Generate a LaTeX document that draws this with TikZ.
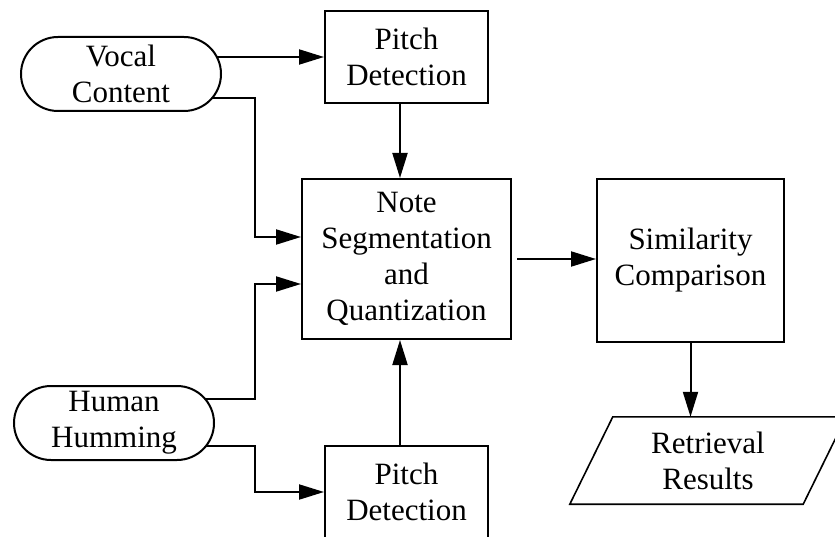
\documentclass[tikz,border=0pt]{standalone}
\usepackage{fontspec}
\setmainfont{Liberation Serif}
\usetikzlibrary{arrows.meta,backgrounds,calc}

\tikzset{
  every node/.style={font=\fontsize{31}{36}\selectfont, inner sep=0pt, align=center},
  box/.style={draw, line width=2pt, fill=white},
  term/.style={draw, line width=2pt, fill=white, rounded corners=37pt,
               minimum width=200pt, minimum height=74pt},
  conn/.style={line width=2pt, -{Triangle[length=25pt,width=15pt]}},
  plain/.style={line width=1.6pt},
}

\begin{document}
\begin{tikzpicture}[x=1pt, y=-1pt]
  \useasboundingbox (0,0) rectangle (835,537);
  \clip (0,0) rectangle (835,537);

  % terminals
  \node[term] (vc) at (121,74)  {Vocal\\Content};
  \node[term] (hh) at (114,423) {Human\\Humming};

  % processing blocks
  \node[box, minimum width=163pt, minimum height=92pt]  (pd1)  at (406.5,57)    {Pitch\\Detection};
  \node[box, minimum width=209pt, minimum height=160pt] (note) at (406.5,259)   {Note\\Segmentation\\and\\Quantization};
  \node[box, minimum width=163pt, minimum height=92pt]  (pd2)  at (406.5,492)   {Pitch\\Detection};
  \node[box, minimum width=187pt, minimum height=163pt] (sim)  at (690.5,260.5) {Similarity\\Comparison};

  % output (parallelogram)
  \node[minimum width=276pt, minimum height=87pt] (res) at (708,460.5) {Retrieval\\Results};
  \draw[plain] ($(res.north west)+(43,0)$) -- (res.north east)
               -- ($(res.south east)+(-43,0)$) -- (res.south west) -- cycle;

  % bend points of the routed connectors
  \coordinate (bendA) at (255,237);
  \coordinate (bendB) at (255,284);
  \coordinate (bendC) at (255,492);

  \begin{scope}[on background layer]
    \fill[white] (0,0) rectangle (835,537);
    \draw[conn] ([xshift=-8pt]vc.east |- pd1.west) -- (pd1.west);
    \draw[conn] ([xshift=-12pt,yshift=-24pt]vc.east) -| (bendA) -- (bendA -| note.west);
    \draw[conn] ([xshift=-12pt,yshift=24pt]hh.east) -| (bendB) -- (bendB -| note.west);
    \draw[conn] ([xshift=-12pt,yshift=-23pt]hh.east) -| (bendC) -- (bendC -| pd2.west);
    \draw[conn] ([xshift=-6.5pt]pd1.south) -- ([xshift=-6.5pt]pd1.south |- note.north);
    \draw[conn] ([xshift=-6.5pt]pd2.north) -- ([xshift=-6.5pt]pd2.north |- note.south);
    \draw[conn] ([xshift=5pt]note.east) -- (note.east -| sim.west);
    \draw[conn] (sim.south) -- (sim.south |- res.north);
  \end{scope}
\end{tikzpicture}
\end{document}
